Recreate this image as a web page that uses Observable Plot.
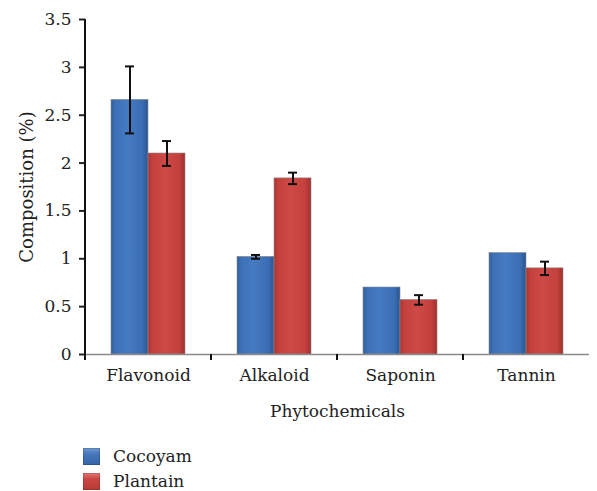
<!DOCTYPE html>
<html>
<head>
<meta charset="utf-8">
<script src="https://cdn.jsdelivr.net/npm/d3@7"></script>
<script src="https://cdn.jsdelivr.net/npm/@observablehq/plot@0.6"></script>
<style>
  body { margin: 0; background: #fff; font-family: "DejaVu Serif", serif; }
  #chart svg { display: block; }
  #chart svg text { font-family: "DejaVu Serif", serif; }
  .legend { position: relative; height: 59px; }
  .legend .row { position: absolute; left: 83px; display: flex; align-items: center; font-size: 17px; color: #222; }
  .legend .sw { width: 17px; height: 17px; margin-right: 13px; box-shadow: inset 0 0 0 0.5px rgba(0,0,0,0.3); }
  .sw.blue { background: linear-gradient(180deg, #6d9ad3 0%, #4677bb 35%, #3465a8 100%); }
  .sw.red { background: linear-gradient(180deg, #e07a77 0%, #cc4643 35%, #b63936 100%); }
</style>
</head>
<body>
<div id="chart"></div>
<div class="legend">
  <div class="row" style="top:14px"><div class="sw blue"></div><span>Cocoyam</span></div>
  <div class="row" style="top:39px"><div class="sw red"></div><span>Plantain</span></div>
</div>
<script>
const categories = ["Flavonoid", "Alkaloid", "Saponin", "Tannin"];
const series = ["Cocoyam", "Plantain"];
const cocoyam = [2.66, 1.02, 0.70, 1.06];
const cocoyamErr = [0.35, 0.02, 0, 0];
const plantain = [2.10, 1.84, 0.57, 0.90];
const plantainErr = [0.13, 0.06, 0.05, 0.07];
const yTicks = [0, 0.5, 1, 1.5, 2, 2.5, 3, 3.5];

const rows = [];
categories.forEach((c, i) => {
  rows.push({category: c, series: "Cocoyam", value: cocoyam[i], err: cocoyamErr[i]});
  rows.push({category: c, series: "Plantain", value: plantain[i], err: plantainErr[i]});
});
const errRows = rows.filter(d => d.err > 0);

const plot = Plot.plot({
  width: 597,
  height: 432,
  marginLeft: 84,
  marginRight: 7,
  marginTop: 19,
  marginBottom: 78,
  style: {fontFamily: "'DejaVu Serif', serif", fontSize: "17px", color: "#222", background: "#fff"},
  fx: {domain: categories, padding: 0, label: null},
  x: {domain: series, paddingInner: 0, paddingOuter: 0.66, axis: null},
  y: {axis: null, domain: [0, 3.5]},
  marks: [
    Plot.axisY({ticks: yTicks, tickFormat: d => String(d), tickSize: 6, tickPadding: 8, fontSize: 17,
      label: null}),
    Plot.axisY({ticks: [], tickSize: 0, fontSize: 18,
      label: "Composition (%)", labelAnchor: "center", labelArrow: "none", labelOffset: 65}),
    Plot.barY(rows.filter(d => d.series === "Cocoyam"), {fx: "category", x: "series", y: "value", fill: "url(#gBlue)", stroke: "#8a8a8a", strokeWidth: 0.6}),
    Plot.barY(rows.filter(d => d.series === "Plantain"), {fx: "category", x: "series", y: "value", fill: "url(#gRed)", stroke: "#8a8a8a", strokeWidth: 0.6}),
    Plot.ruleY([0], {stroke: "#8a8a8a", strokeWidth: 1.5}),
    Plot.ruleX(errRows, {fx: "category", x: "series", y1: d => d.value - d.err, y2: d => d.value + d.err, stroke: "#111", strokeWidth: 2}),
    Plot.tickY(errRows, {fx: "category", x: "series", y: d => d.value + d.err, stroke: "#111", strokeWidth: 2, insetLeft: 14, insetRight: 14}),
    Plot.tickY(errRows, {fx: "category", x: "series", y: d => d.value - d.err, stroke: "#111", strokeWidth: 2, insetLeft: 14, insetRight: 14}),
    Plot.axisFx({anchor: "bottom", tickSize: 0, tickPadding: 14, fontSize: 17, label: "Phytochemicals", labelAnchor: "center", labelOffset: 62, labelArrow: "none"})
  ]
});

const svg = d3.select(plot);
const defs = svg.insert("defs", ":first-child");
function grad(id, stops) {
  const g = defs.append("linearGradient").attr("id", id).attr("x1", "0").attr("x2", "1").attr("y1", "0").attr("y2", "0");
  stops.forEach(([o, c]) => g.append("stop").attr("offset", o).attr("stop-color", c));
}
grad("gBlue", [[0, "#2f5f9f"], [0.12, "#3d71b7"], [0.45, "#457bc2"], [0.85, "#3a6db3"], [1, "#2a5590"]]);
grad("gRed", [[0, "#ad3532"], [0.12, "#c3403d"], [0.45, "#cf4a47"], [0.85, "#c3403d"], [1, "#9e2f2c"]]);

const fx = plot.scale("fx");
const y = plot.scale("y");
svg.append("line")
  .attr("x1", fx.apply(categories[0])).attr("x2", fx.apply(categories[0]))
  .attr("y1", y.apply(3.5)).attr("y2", y.apply(0) + 6)
  .attr("stroke", "#111").attr("stroke-width", 2);
categories.forEach(c => {
  const xx = fx.apply(c);
  svg.append("line").attr("x1", xx).attr("x2", xx)
    .attr("y1", y.apply(0)).attr("y2", y.apply(0) + 6)
    .attr("stroke", "#111").attr("stroke-width", 2);
});
svg.selectAll("[aria-label='y-axis tick']").attr("stroke", "#111").attr("stroke-width", 2);

document.getElementById("chart").appendChild(plot);
</script>
</body>
</html>
